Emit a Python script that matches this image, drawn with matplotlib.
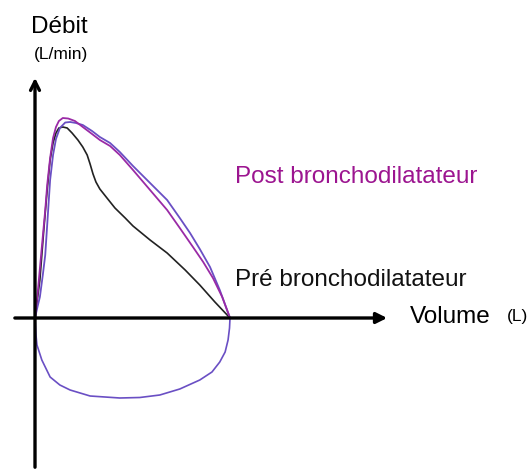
import numpy as np
import matplotlib
matplotlib.use("Agg")
from matplotlib import pyplot as plt

plt.rcParams['font.family'] = ['Liberation Sans', 'DejaVu Sans']

# volume (L) / flow values for each loop
Post_Vol = [0, 0.06, 0.14, 0.21, 0.25, 0.31, 0.37, 0.43, 0.49, 0.57, 0.68, 0.82, 0.98, 1.17,
            1.33, 1.54, 1.74, 2.01, 2.36, 2.71, 2.97, 3.24, 3.45, 3.65, 3.84, 4.0]
Post_Flow = [0, 1.12, 2.84, 4.32, 5.32, 6.4, 7.2, 7.64, 7.88, 8.0, 7.98, 7.88, 7.64, 7.36,
             7.12, 6.88, 6.52, 5.92, 5.12, 4.32, 3.6, 2.84, 2.24, 1.6, 0.84, 0]

Post2_Vol = [0, 0.06, 0.10, 0.16, 0.21, 0.27, 0.31, 0.37, 0.43, 0.51, 0.62, 0.72, 0.84, 0.98,
             1.17, 1.33, 1.54, 1.74, 2.01, 2.36, 2.71, 2.97, 3.18, 3.38, 3.59, 3.79, 4.0]
Post2_Flow = [0, 0.52, 0.84, 1.72, 2.52, 4.32, 5.52, 6.52, 7.16, 7.6, 7.82, 7.84, 7.8, 7.72,
              7.48, 7.24, 7.0, 6.64, 6.08, 5.4, 4.72, 4.0, 3.4, 2.76, 2.04, 1.12, 0]

Pre_Vol = [0, 0.10, 0.18, 0.25, 0.31, 0.37, 0.43, 0.49, 0.57, 0.66, 0.76, 0.88, 0.98, 1.07,
           1.13, 1.19, 1.25, 1.33, 1.46, 1.64, 1.85, 2.01, 2.36, 2.71, 3.08, 3.38, 3.69, 4.0]
Pre_Flow = [0, 1.52, 3.52, 5.12, 6.32, 7.0, 7.4, 7.6, 7.64, 7.6, 7.4, 7.12, 6.84, 6.52,
            6.16, 5.76, 5.44, 5.16, 4.84, 4.4, 4.0, 3.68, 3.12, 2.6, 1.92, 1.32, 0.64, 0]

Insp_Vol = [0, 0.02, 0.04, 0.14, 0.31, 0.51, 0.72, 1.13, 1.74, 2.15, 2.56, 2.97, 3.38, 3.63,
            3.79, 3.90, 3.96, 3.99, 4.0]
Insp_Flow = [0, -0.68, -1.08, -1.68, -2.36, -2.68, -2.88, -3.12, -3.2, -3.18, -3.08, -2.84,
             -2.48, -2.16, -1.76, -1.36, -0.88, -0.4, 0]

Purple = '#9a2aa6'
Violet = '#6a4fc4'
Text_Purple = '#9c1590'

fig = plt.figure(figsize=(5.31, 4.72), dpi=100)
ax = fig.add_axes([0, 0, 1, 1])
ax.set_xlim(-0.718, 10.174)
ax.set_ylim(-6.16, 12.72)
ax.axis('off')

# axes drawn as arrows
ax.annotate('', xy=(7.28, 0), xytext=(-0.47, 0),
            arrowprops=dict(arrowstyle='-|>', color='black', lw=2.4, mutation_scale=16))
ax.annotate('', xy=(0, 9.72), xytext=(0, -6.08),
            arrowprops=dict(arrowstyle='->', color='black', lw=2.4, mutation_scale=16))

kw = dict(solid_joinstyle='round', solid_capstyle='round')
ax.plot(Insp_Vol, Insp_Flow, color=Violet, lw=1.2, **kw)
ax.plot(Pre_Vol, Pre_Flow, color='#222222', lw=1.2, **kw)
ax.plot(Post2_Vol, Post2_Flow, color=Violet, lw=1.3, **kw)
ax.plot(Post_Vol, Post_Flow, color=Purple, lw=1.3, **kw)

ax.text(0.49, 11.4, 'Débit', fontsize=17.5, ha='center', va='baseline')
ax.text(0.53, 10.56, '(L/min)', fontsize=12.5, ha='center', va='center')
ax.text(4.10, 5.4, 'Post bronchodilatateur', fontsize=17.5, color=Text_Purple, va='baseline')
ax.text(4.10, 1.28, 'Pré bronchodilatateur', fontsize=17.5, color='#111111', va='baseline')
ax.text(7.69, -0.2, 'Volume', fontsize=17.5, va='baseline')
ax.text(9.68, 0.04, '(L)', fontsize=12.5, va='center')

plt.savefig('out.png', dpi=100)
